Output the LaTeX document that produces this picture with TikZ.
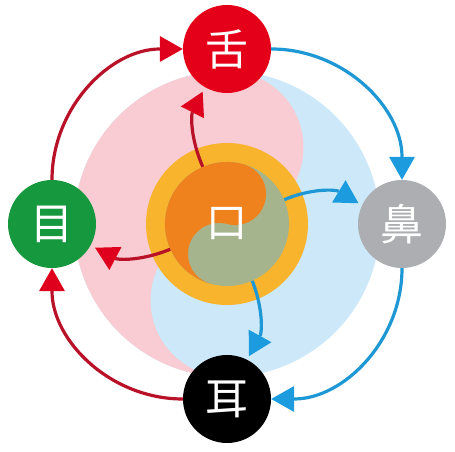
\documentclass[tikz,border=0pt]{standalone}
\usepackage{fontspec}
\newfontfamily\cjk{Noto Sans CJK SC}
\usetikzlibrary{arrows.meta,calc}
\definecolor{pinkbg}{RGB}{249,203,211}
\definecolor{bluebg}{RGB}{205,233,249}
\definecolor{ringor}{RGB}{247,180,44}
\definecolor{innor}{RGB}{240,130,30}
\definecolor{inngr}{RGB}{166,180,142}
\definecolor{shered}{RGB}{228,0,24}
\definecolor{mugreen}{RGB}{22,152,62}
\definecolor{bigray}{RGB}{172,174,177}
\definecolor{redline}{RGB}{185,18,40}
\definecolor{redhead}{RGB}{222,0,28}
\definecolor{blueline}{RGB}{30,152,212}
\definecolor{bluehead}{RGB}{28,156,222}
\tikzset{
  organ/.style={circle,minimum size=88pt,inner sep=0pt,text=white,font=\cjk\fontsize{43}{43}\selectfont},
  redarr/.style={draw=redline,line width=3.2pt,-{Triangle[length=23pt,width=26pt,line width=0pt,color=redhead]}},
  bluearr/.style={draw=blueline,line width=3.2pt,-{Triangle[length=23pt,width=26pt,line width=0pt,color=bluehead]}},
}
\begin{document}
\begin{tikzpicture}[x=1pt,y=1pt]
\useasboundingbox (0,0) rectangle (455,452);
\fill[white] (0,0) rectangle (455,452);
\coordinate (C) at (227,228);
% big yin-yang
\fill[bluebg] (C) circle (153);
\fill[pinkbg] ($(C)+(0,153)$) arc[start angle=90,end angle=270,radius=153]
  arc[start angle=270,end angle=90,radius=76.5]
  arc[start angle=-90,end angle=90,radius=76.5] -- cycle;
% orange ring
\fill[ringor] (C) circle (81);
% inner yin-yang
\begin{scope}[rotate around={-15:(C)}]
\fill[inngr] (C) circle (62);
\fill[innor] ($(C)+(0,62)$) arc[start angle=90,end angle=270,radius=62]
  arc[start angle=270,end angle=90,radius=31]
  arc[start angle=-90,end angle=90,radius=31] -- cycle;
\end{scope}
\node[organ,minimum size=124pt,font=\cjk\fontsize{41}{41}\selectfont] (kou) at (C) {口};
% organ nodes
\node[organ,fill=shered] (she) at ($(C)+(90:175)$) {舌};
\node[organ,fill=bigray] (bi) at ($(C)+(0:175)$) {鼻};
\node[organ,fill=black] (er) at ($(C)+(270:175)$) {耳};
\node[organ,fill=mugreen] (mu) at ($(C)+(180:175)$) {目};
% outer cycle
\draw[redarr] (mu) to[bend left=45] (she);
\draw[bluearr] (she) to[bend left=45] (bi);
\draw[bluearr] (bi) to[bend left=45] (er);
\draw[redarr] (er) to[bend left=45] (mu);
% inner arrows
\draw[redarr,shorten >=5pt] (kou.113) to[bend left=25] (she.240);
\draw[bluearr,shorten >=4pt] (kou.23) to[bend left=27] (bi.155);
\draw[bluearr,shorten >=4pt] (kou.294) to[bend left=25] (er.63);
\draw[redarr,shorten >=5pt] (kou.204) to[bend left=25] (mu.331);
\end{tikzpicture}
\end{document}
